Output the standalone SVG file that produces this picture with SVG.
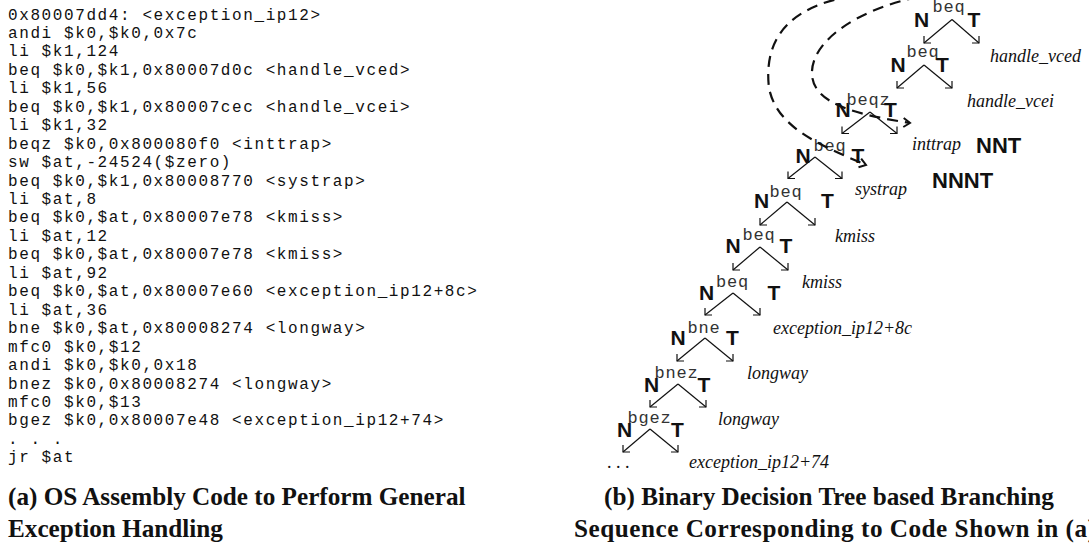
<svg xmlns="http://www.w3.org/2000/svg" width="1089" height="544" viewBox="0 0 1089 544">
<style>
.code{font-family:"Liberation Mono","DejaVu Sans Mono",monospace;font-size:16px;letter-spacing:1.6px;fill:#111}
.mn{font-family:"Liberation Mono","DejaVu Sans Mono",monospace;font-size:17px;letter-spacing:0.8px;fill:#333}
.nt{font-family:"Liberation Sans",Arial,sans-serif;font-weight:bold;font-size:21px;fill:#111}
.big{font-family:"Liberation Sans",Arial,sans-serif;font-weight:bold;font-size:22px;fill:#111}
.tg{font-family:"Liberation Serif","Times New Roman",serif;font-style:italic;font-size:18px;fill:#111}
.dots{font-family:"Liberation Serif","Times New Roman",serif;font-size:18px;fill:#111}
.cap{font-family:"Liberation Serif","Times New Roman",serif;font-weight:bold;font-size:25.2px;fill:#111}
.arr{stroke:#111;stroke-width:1.2;fill:none}
.dash{stroke:#111;stroke-width:2.2;fill:none;stroke-dasharray:11 7}
</style>
<defs>
<marker id="hl" markerUnits="userSpaceOnUse" orient="0" refX="0" refY="0" viewBox="-2 -9 11 11" markerWidth="11" markerHeight="11" overflow="visible">
<path d="M7,0 L0,0 L0,-7" fill="none" stroke="#111" stroke-width="1.2"/>
</marker>
<marker id="hr" markerUnits="userSpaceOnUse" orient="0" refX="0" refY="0" viewBox="-9 -9 11 11" markerWidth="11" markerHeight="11" overflow="visible">
<path d="M-7,0 L0,0 L0,-7" fill="none" stroke="#111" stroke-width="1.2"/>
</marker>
<marker id="hook" markerUnits="userSpaceOnUse" orient="auto" refX="0" refY="0" viewBox="-10 -6 12 12" markerWidth="12" markerHeight="12" overflow="visible">
<path d="M-7,-4 L0,0 L-6,5" fill="none" stroke="#111" stroke-width="2"/>
</marker>
</defs>
<rect width="1089" height="544" fill="#fff"/>

<g id="code">
<text class="code" x="8" y="19.5">0x80007dd4: &lt;exception_ip12&gt;<tspan x="8" dy="18.45">andi $k0,$k0,0x7c</tspan><tspan x="8" dy="18.45">li $k1,124</tspan><tspan x="8" dy="18.45">beq $k0,$k1,0x80007d0c &lt;handle_vced&gt;</tspan><tspan x="8" dy="18.45">li $k1,56</tspan><tspan x="8" dy="18.45">beq $k0,$k1,0x80007cec &lt;handle_vcei&gt;</tspan><tspan x="8" dy="18.45">li $k1,32</tspan><tspan x="8" dy="18.45">beqz $k0,0x800080f0 &lt;inttrap&gt;</tspan><tspan x="8" dy="18.45">sw $at,-24524($zero)</tspan><tspan x="8" dy="18.45">beq $k0,$k1,0x80008770 &lt;systrap&gt;</tspan><tspan x="8" dy="18.45">li $at,8</tspan><tspan x="8" dy="18.45">beq $k0,$at,0x80007e78 &lt;kmiss&gt;</tspan><tspan x="8" dy="18.45">li $at,12</tspan><tspan x="8" dy="18.45">beq $k0,$at,0x80007e78 &lt;kmiss&gt;</tspan><tspan x="8" dy="18.45">li $at,92</tspan><tspan x="8" dy="18.45">beq $k0,$at,0x80007e60 &lt;exception_ip12+8c&gt;</tspan><tspan x="8" dy="18.45">li $at,36</tspan><tspan x="8" dy="18.45">bne $k0,$at,0x80008274 &lt;longway&gt;</tspan><tspan x="8" dy="18.45">mfc0 $k0,$12</tspan><tspan x="8" dy="18.45">andi $k0,$k0,0x18</tspan><tspan x="8" dy="18.45">bnez $k0,0x80008274 &lt;longway&gt;</tspan><tspan x="8" dy="18.45">mfc0 $k0,$13</tspan><tspan x="8" dy="18.45">bgez $k0,0x80007e48 &lt;exception_ip12+74&gt;</tspan><tspan x="8" dy="18.45">. . .</tspan><tspan x="8" dy="18.45">jr $at</tspan></text>
</g>

<g id="caption-a">
<text class="cap" x="8" y="505">(a) OS Assembly Code to Perform General</text>
<text class="cap" x="8" y="537">Exception Handling</text>
</g>
<g id="caption-b">
<text class="cap" x="829" y="505" text-anchor="middle">(b) Binary Decision Tree based Branching</text>
<text class="cap" x="574" y="537" textLength="522" lengthAdjust="spacing">Sequence Corresponding to Code Shown in (a)</text>
</g>

<g id="node1"><text class="nt" x="914" y="27">N</text><text class="mn" x="932.5" y="12">beq</text><text class="nt" x="967.5" y="27">T</text></g>
<g id="node2"><text class="nt" x="890.5" y="72">N</text><text class="mn" x="906.5" y="57">beq</text><text class="nt" x="936" y="72">T</text></g>
<g id="node3"><text class="nt" x="835.5" y="117">N</text><text class="mn" x="846.5" y="105">beqz</text><text class="nt" x="884" y="117">T</text></g>
<g id="node4"><text class="nt" x="795.5" y="163">N</text><text class="mn" x="813.5" y="150.5">beq</text><text class="nt" x="851.5" y="163">T</text></g>
<g id="node5"><text class="nt" x="754" y="208">N</text><text class="mn" x="769.5" y="196.5">beq</text><text class="nt" x="821" y="208">T</text></g>
<g id="node6"><text class="nt" x="725.5" y="253">N</text><text class="mn" x="742.5" y="240">beq</text><text class="nt" x="779.5" y="253">T</text></g>
<g id="node7"><text class="nt" x="699" y="300">N</text><text class="mn" x="716" y="286.5">beq</text><text class="nt" x="767.5" y="300">T</text></g>
<g id="node8"><text class="nt" x="670.5" y="345">N</text><text class="mn" x="687.5" y="333">bne</text><text class="nt" x="726" y="345">T</text></g>
<g id="node9"><text class="nt" x="644" y="391.5">N</text><text class="mn" x="654.5" y="378">bnez</text><text class="nt" x="697.5" y="391.5">T</text></g>
<g id="node10"><text class="nt" x="617" y="436.5">N</text><text class="mn" x="627.5" y="423">bgez</text><text class="nt" x="671" y="436.5">T</text></g>

<g id="targets">
<text class="tg" x="990" y="62">handle_vced</text>
<text class="tg" x="967" y="106.5">handle_vcei</text>
<text class="tg" x="912" y="150">inttrap</text>
<text class="tg" x="855" y="195">systrap</text>
<text class="tg" x="835" y="242">kmiss</text>
<text class="tg" x="802" y="288">kmiss</text>
<text class="tg" x="773" y="334">exception_ip12+8c</text>
<text class="tg" x="747" y="379">longway</text>
<text class="tg" x="718" y="425">longway</text>
<text class="tg" x="689" y="468">exception_ip12+74</text>
<text class="dots" x="607" y="468">. . .</text>
</g>

<g id="sequences">
<text class="big" x="976" y="153">NNT</text>
<text class="big" x="932" y="188">NNNT</text>
</g>

<g id="connectors">
<path class="arr" d="M952,19.5 L924,43" marker-end="url(#hl)"/><path class="arr" d="M952,19.5 L979,43" marker-end="url(#hr)"/>
<path class="arr" d="M924,65 L897,88" marker-end="url(#hl)"/><path class="arr" d="M924,65 L952,88" marker-end="url(#hr)"/>
<path class="arr" d="M870,112 L842,133.5" marker-end="url(#hl)"/><path class="arr" d="M870,112 L897,133.5" marker-end="url(#hr)"/>
<path class="arr" d="M815,157 L788,178.5" marker-end="url(#hl)"/><path class="arr" d="M815,157 L842,178.5" marker-end="url(#hr)"/>
<path class="arr" d="M787,202 L760,225" marker-end="url(#hl)"/><path class="arr" d="M787,202 L815,225" marker-end="url(#hr)"/>
<path class="arr" d="M760,247 L733,270" marker-end="url(#hl)"/><path class="arr" d="M760,247 L788,270" marker-end="url(#hr)"/>
<path class="arr" d="M733,293 L705,315" marker-end="url(#hl)"/><path class="arr" d="M733,293 L760,315" marker-end="url(#hr)"/>
<path class="arr" d="M705,338 L677,361" marker-end="url(#hl)"/><path class="arr" d="M705,338 L733,361" marker-end="url(#hr)"/>
<path class="arr" d="M678,384 L650,407" marker-end="url(#hl)"/><path class="arr" d="M678,384 L706,407" marker-end="url(#hr)"/>
<path class="arr" d="M650,429 L623,452" marker-end="url(#hl)"/><path class="arr" d="M650,429 L678,452" marker-end="url(#hr)"/>
<path class="dash" d="M918,-3 C860,9 810,40 812,75 C814,105 860,115 910,123" marker-end="url(#hook)"/>
<path class="dash" d="M852,-4 C782,8 764,45 769,88 C777,128 820,145 866,165" marker-end="url(#hook)"/>
</g>
</svg>
